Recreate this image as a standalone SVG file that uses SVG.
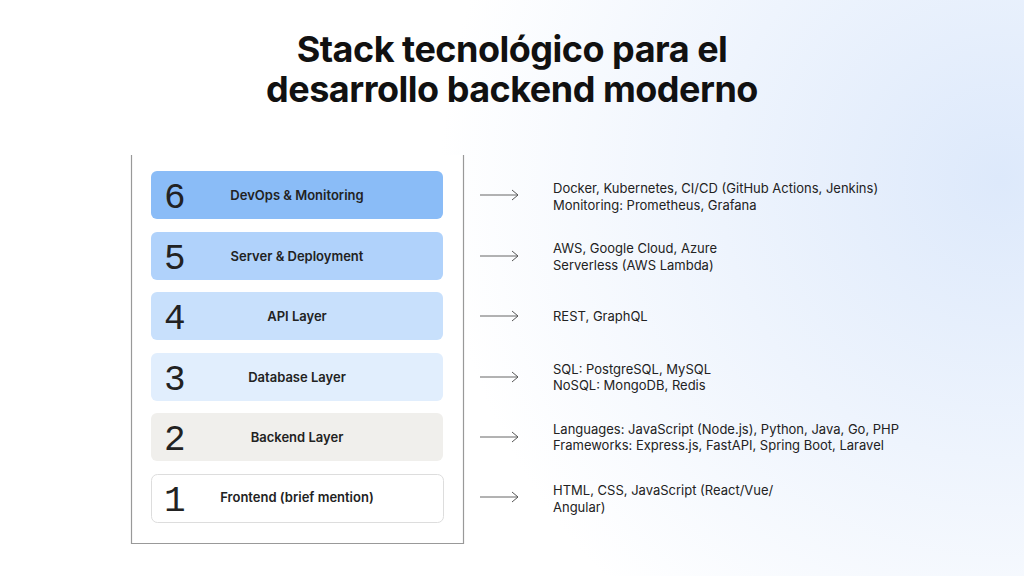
<svg xmlns="http://www.w3.org/2000/svg" width="1024" height="576" viewBox="0 0 1024 576">
<defs>
<radialGradient id="bg" cx="1000" cy="180" r="560" gradientUnits="userSpaceOnUse">
<stop offset="0" stop-color="#dde9fb"/><stop offset="1" stop-color="#ffffff"/>
</radialGradient>
<marker id="ah" markerWidth="8" markerHeight="12" refX="7" refY="6" orient="auto" markerUnits="userSpaceOnUse">
<path d="M1,1 L7,6 L1,11" fill="none" stroke="#555" stroke-width="1"/>
</marker>
<style>
.t{font-family:Inter,"Liberation Sans",sans-serif;font-weight:700;font-size:36px;fill:#111;text-anchor:middle;letter-spacing:-0.5px}
.n{font-family:"Liberation Mono",monospace;font-size:36px;fill:#222}
.l{font-family:Inter,"Liberation Sans",sans-serif;font-weight:600;font-size:13px;fill:#222;text-anchor:middle}
.d{font-family:Inter,"Liberation Sans",sans-serif;font-size:13px;fill:#222}
.c{stroke:#666;stroke-width:1;fill:none}
</style>
</defs>
<rect width="1024" height="576" fill="url(#bg)"/>
<text class="t" x="512" y="62">Stack tecnológico para el</text>
<text class="t" x="512" y="102">desarrollo backend moderno</text>
<path d="M131.5,155 V543.5 H463.5 V155" fill="#fff" stroke="#999" stroke-width="1.2"/>
<g id="n6"><rect x="151" y="171" width="292" height="48" rx="6" fill="#8abcf7"/><text class="n" x="164" y="208">6</text><text class="l" x="297" y="200">DevOps &amp; Monitoring</text><text class="d" x="553" y="193">Docker, Kubernetes, CI/CD (GitHub Actions, Jenkins)</text><text class="d" x="553" y="210">Monitoring: Prometheus, Grafana</text></g>
<g id="n5"><rect x="151" y="232" width="292" height="48" rx="6" fill="#b0d2fb"/><text class="n" x="164" y="269">5</text><text class="l" x="297" y="261">Server &amp; Deployment</text><text class="d" x="553" y="253">AWS, Google Cloud, Azure</text><text class="d" x="553" y="270">Serverless (AWS Lambda)</text></g>
<g id="n4"><rect x="151" y="292" width="292" height="48" rx="6" fill="#c8e0fc"/><text class="n" x="164" y="329">4</text><text class="l" x="297" y="321">API Layer</text><text class="d" x="553" y="321">REST, GraphQL</text></g>
<g id="n3"><rect x="151" y="353" width="292" height="48" rx="6" fill="#e1eefd"/><text class="n" x="164" y="390">3</text><text class="l" x="297" y="382">Database Layer</text><text class="d" x="553" y="374">SQL: PostgreSQL, MySQL</text><text class="d" x="553" y="390">NoSQL: MongoDB, Redis</text></g>
<g id="n2"><rect x="151" y="413" width="292" height="48" rx="6" fill="#f0efec"/><text class="n" x="164" y="450">2</text><text class="l" x="297" y="442">Backend Layer</text><text class="d" x="553" y="434">Languages: JavaScript (Node.js), Python, Java, Go, PHP</text><text class="d" x="553" y="450">Frameworks: Express.js, FastAPI, Spring Boot, Laravel</text></g>
<g id="n1"><rect x="151.5" y="474.5" width="292" height="48" rx="6" fill="#fff" stroke="#ddd"/><text class="n" x="164" y="511">1</text><text class="l" x="297" y="502">Frontend (brief mention)</text><text class="d" x="553" y="495">HTML, CSS, JavaScript (React/Vue/</text><text class="d" x="553" y="512">Angular)</text></g>
<g id="connectors">
<line class="c" x1="480" y1="195" x2="518" y2="195" marker-end="url(#ah)"/>
<line class="c" x1="480" y1="256" x2="518" y2="256" marker-end="url(#ah)"/>
<line class="c" x1="480" y1="316" x2="518" y2="316" marker-end="url(#ah)"/>
<line class="c" x1="480" y1="377" x2="518" y2="377" marker-end="url(#ah)"/>
<line class="c" x1="480" y1="437" x2="518" y2="437" marker-end="url(#ah)"/>
<line class="c" x1="480" y1="497" x2="518" y2="497" marker-end="url(#ah)"/>
</g>
</svg>
